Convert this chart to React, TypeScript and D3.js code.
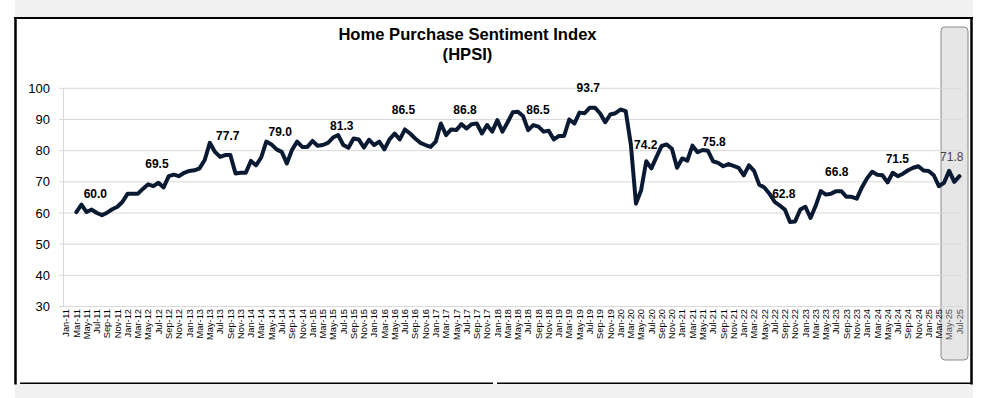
import React from "react";
import * as d3 from "d3";

// ---- data ----
const axisStart = new Date(2011, 0, 1); // Jan-11
const axisEnd = new Date(2025, 6, 1); // Jul-25
const seriesStart = new Date(2011, 2, 1); // Mar-11

const hpsiValues: number[] = [
  // 2011 (Mar-Dec)
  60.3, 62.7, 60.3, 61.1, 60.0, 59.3, 60.1, 61.2, 62.0, 63.6,
  // 2012
  66.2, 66.2, 66.2, 67.8, 69.2, 68.6, 69.7, 68.2, 71.8, 72.3, 71.8, 72.9,
  // 2013
  73.5, 73.7, 74.3, 77.0, 82.5, 79.6, 78.0, 78.6, 78.6, 72.7, 72.9, 72.9,
  // 2014
  76.7, 75.3, 77.8, 82.9, 82.0, 80.4, 79.6, 75.9, 80.2, 82.9, 81.2, 81.2,
  // 2015
  83.1, 81.6, 81.8, 82.5, 84.2, 85.0, 81.8, 80.9, 83.9, 83.6, 81.0, 83.5,
  // 2016
  81.8, 82.9, 80.4, 83.6, 85.5, 83.6, 86.8, 85.5, 83.9, 82.5, 81.8, 81.2,
  // 2017
  82.9, 88.7, 85.0, 86.8, 86.6, 88.5, 87.1, 88.5, 88.7, 85.5, 88.2, 86.1,
  // 2018
  89.8, 86.1, 89.1, 92.3, 92.5, 91.1, 86.6, 88.2, 87.7, 86.1, 86.4, 83.6,
  // 2019
  84.7, 84.7, 90.0, 88.7, 92.2, 92.0, 93.8, 93.8, 92.0, 89.1, 91.6, 92.0,
  // 2020
  93.2, 92.7, 82.0, 63.0, 67.3, 76.6, 74.3, 78.0, 81.5, 82.0, 80.6, 74.5,
  // 2021
  77.5, 76.8, 81.6, 79.5, 80.2, 80.0, 76.6, 76.1, 75.0, 75.7, 75.1, 74.5,
  // 2022
  72.1, 75.3, 73.5, 69.1, 68.2, 66.2, 63.6, 62.4, 61.1, 57.1, 57.3, 61.1,
  // 2023
  62.0, 58.4, 62.3, 67.0, 65.9, 66.2, 67.0, 67.0, 65.2, 65.2, 64.6, 68.2,
  // 2024
  71.1, 73.2, 72.3, 72.1, 69.8, 72.9, 71.8, 72.6, 73.7, 74.5, 75.0, 73.6,
  // 2025 (Jan-Jul)
  73.5, 72.1, 68.6, 69.7, 73.5, 70.0, 71.8,
];

const yTicks: number[] = [30, 40, 50, 60, 70, 80, 90, 100];

// annotation labels: text, month offset from Jan-11 (fractional), value level of label centre
const annTexts: string[] = ["60.0", "69.5", "77.7", "79.0", "81.3", "86.5", "86.8", "86.5", "93.7", "74.2", "75.8", "62.8", "66.8", "71.5", "71.8"];
const annMonths: number[] = [5.7, 17.7, 31.5, 41.7, 53.7, 65.7, 77.7, 91.9, 101.7, 112.9, 126.2, 139.8, 150.1, 161.9, 172.5];
const annLevels: number[] = [66.1, 75.7, 84.7, 86.1, 88.0, 93.0, 93.0, 93.0, 100.3, 82.0, 82.9, 66.1, 73.2, 77.5, 78.0];

const titleLines: string[] = ["Home Purchase Sentiment Index", "(HPSI)"];

// ---- layout ----
const W = 990;
const H = 398;
const plotLeft = 63.5;
const plotRight = 962;
const plotTop = 88.3;
const plotBottom = 306.5;
const FONT = "Arial, 'Liberation Sans', Helvetica, sans-serif";

export default function App() {
  const months = d3.timeMonth.range(axisStart, d3.timeMonth.offset(axisEnd, 1));
  const monthKeys = months.map((d) => +d);
  const x = d3.scalePoint<number>().domain(monthKeys).range([plotLeft, plotRight]).padding(0.5);
  const step = x.step();
  const xOfIndex = (i: number) => (x(monthKeys[0]) as number) + i * step;
  const y = d3.scaleLinear().domain([30, 100]).range([plotBottom, plotTop]);
  const fmt = d3.timeFormat("%b-%y");

  const seriesOffset = d3.timeMonth.count(axisStart, seriesStart);
  const points = hpsiValues.map((v, i) => ({ i: i + seriesOffset, v }));
  const line = d3
    .line<{ i: number; v: number }>()
    .x((d) => xOfIndex(d.i))
    .y((d) => y(d.v))
    .curve(d3.curveLinear);

  const labelMonths = months.filter((_, i) => i % 2 === 0);

  const boxX = 941;
  const boxW = 27;

  return (
    <svg
      width={W}
      height={H}
      style={{ position: "absolute", left: 0, top: 0, background: "#fff" }}
      fontFamily={FONT}
    >
      {/* page bands */}
      <rect x={15} y={0} width={958} height={17} fill="#f1f1f1" />
      <rect x={15} y={384} width={958} height={14} fill="#f1f1f1" />

      {/* overlay box (behind plot) */}
      <rect x={boxX} y={27} width={boxW} height={333} rx={4} ry={4} fill="#e6e6e6" stroke="#8a8a8a" strokeWidth={1} />

      {/* gridlines */}
      {yTicks.map((t) => (
        <line key={t} x1={59} x2={plotRight} y1={y(t)} y2={y(t)} stroke="#d9d9d9" strokeWidth={1} />
      ))}
      <line x1={plotLeft} x2={plotLeft} y1={plotTop} y2={plotBottom} stroke="#d9d9d9" strokeWidth={1} />

      {/* y tick labels */}
      {yTicks.map((t) => (
        <text key={t} x={50} y={y(t)} dy="0.35em" textAnchor="end" fontSize={13} fill="#000">
          {t}
        </text>
      ))}

      {/* x tick labels */}
      {labelMonths.map((d) => {
        const cx = x(+d) as number;
        const inBox = cx > boxX + 3;
        return (
          <text
            key={+d}
            transform={`translate(${cx},${plotBottom + 2.5}) rotate(-90)`}
            textAnchor="end"
            dy="0.35em"
            fontSize={9.3}
            fill={inBox ? "#555" : "#000"}
          >
            {fmt(d)}
          </text>
        );
      })}

      {/* series line */}
      <path
        d={line(points) || ""}
        fill="none"
        stroke="#0b1a33"
        strokeWidth={4}
        strokeLinejoin="round"
        strokeLinecap="round"
      />

      {/* annotations */}
      {annTexts.map((t, k) => {
        const ax = xOfIndex(annMonths[k]);
        const inBox = ax > boxX;
        return (
          <text
            key={k}
            x={ax}
            y={y(annLevels[k])}
            dy="0.35em"
            textAnchor="middle"
            fontSize={12}
            fontWeight={inBox ? "normal" : "bold"}
            fill={inBox ? "#444" : "#000"}
          >
            {t}
          </text>
        );
      })}

      {/* title */}
      <text x={467.5} y={39.8} textAnchor="middle" fontSize={16.6} fontWeight="bold" fill="#000">
        {titleLines[0]}
      </text>
      <text x={467.5} y={59.6} textAnchor="middle" fontSize={16.6} fontWeight="bold" fill="#000">
        {titleLines[1]}
      </text>

      {/* frame */}
      <line x1={14} x2={973} y1={18} y2={18} stroke="#000" strokeWidth={2} />
      <line x1={15.5} x2={15.5} y1={17} y2={384.5} stroke="#000" strokeWidth={2.5} />
      <line x1={971.5} x2={971.5} y1={17} y2={384.5} stroke="#000" strokeWidth={2.5} />
      <line x1={20} x2={493} y1={383.2} y2={383.2} stroke="#000" strokeWidth={1.5} />
      <line x1={497} x2={971} y1={383.2} y2={383.2} stroke="#000" strokeWidth={1.5} />
    </svg>
  );
}
